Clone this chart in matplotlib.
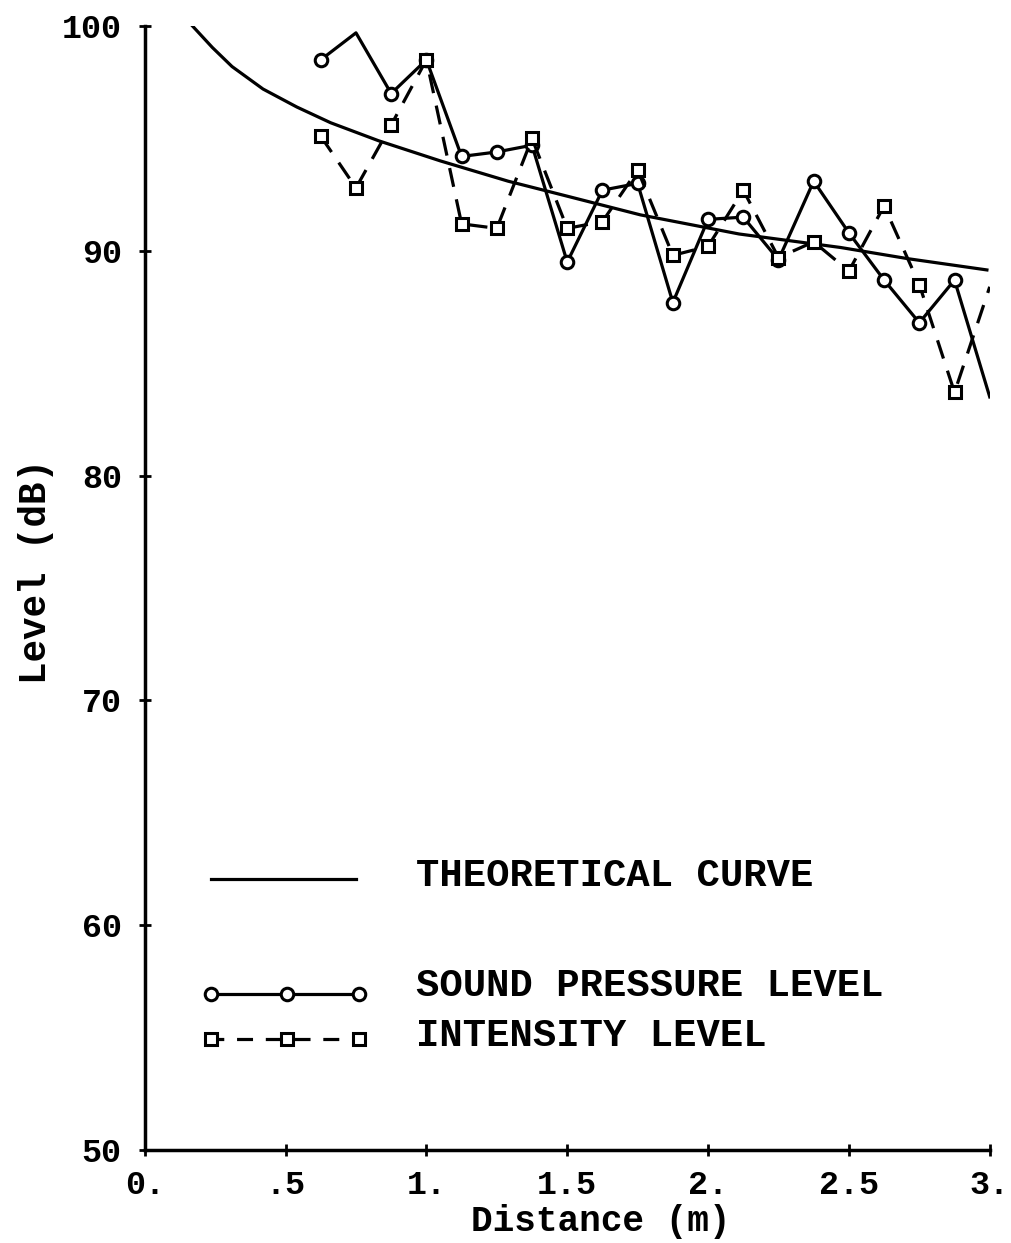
import matplotlib
matplotlib.use('Agg')
import matplotlib.pyplot as plt

# measured positions along the bench (m)
distance = [0.625, 0.75, 0.875, 1.0, 1.125, 1.25, 1.375, 1.5, 1.625, 1.75,
            1.875, 2.0, 2.125, 2.25, 2.375, 2.5, 2.625, 2.75, 2.875, 3.0]
spl = [98.5, 99.7, 97.0, 98.5, 94.2, 94.4, 94.7, 89.5, 92.7, 93.0,
       87.7, 91.4, 91.5, 89.6, 93.1, 90.8, 88.7, 86.8, 88.7, 83.5]
intensity = [95.1, 92.8, 95.6, 98.5, 91.2, 91.0, 95.0, 91.0, 91.3, 93.6,
             89.8, 90.2, 92.7, 89.7, 90.4, 89.1, 92.0, 88.5, 83.7, 88.4]

# theoretical curve
theory_x = [0.17, 0.24, 0.31, 0.42, 0.54, 0.66, 0.83, 1.05, 1.29, 1.51,
            1.76, 2.11, 2.47, 2.71, 2.99]
theory_y = [100.0, 99.05, 98.2, 97.2, 96.4, 95.7, 94.9, 94.0, 93.1, 92.4,
            91.6, 90.75, 90.15, 89.65, 89.15]

xticks = [0, 0.5, 1.0, 1.5, 2.0, 2.5, 3.0]
xtick_labels = ['0.', '.5', '1.', '1.5', '2.', '2.5', '3.']
yticks = [50, 60, 70, 80, 90, 100]

font = 'Liberation Mono'

fig = plt.figure(figsize=(10.12, 12.43), dpi=100)
ax = fig.add_axes([0.143, 0.075, 0.835, 0.904])

ax.plot(theory_x, theory_y, color='black', lw=2.3)

# the end points of the data lines carry no marker in the original
mark_spl = [i for i in range(len(distance)) if i not in (1, len(distance) - 1)]
mark_int = list(range(len(distance) - 1))
ax.plot(distance, spl, color='black', lw=2.3, marker='o', ms=9, mfc='white',
        mec='black', mew=2.2, markevery=mark_spl)
ax.plot(distance, intensity, color='black', lw=2.3, ls=(0, (6, 4)), marker='s', ms=9,
        mfc='white', mec='black', mew=2.2, markevery=mark_int)

ax.set_xlim(0, 3)
ax.set_ylim(50, 100)
ax.set_xticks(xticks)
ax.set_xticklabels(xtick_labels)
ax.set_yticks(yticks)

for side in ['top', 'right']:
    ax.spines[side].set_visible(False)
for side in ['left', 'bottom']:
    ax.spines[side].set_linewidth(2.5)
ax.tick_params(direction='inout', length=9, width=2)
ax.tick_params(axis='x', pad=10)
ax.tick_params(axis='y', pad=12)
for lab in ax.get_xticklabels() + ax.get_yticklabels():
    lab.set_fontfamily(font)
    lab.set_fontweight('bold')
    lab.set_fontsize(24)

ax.set_xlabel('Distance (m)', fontfamily=font, fontweight='bold', fontsize=26)
ax.set_ylabel('Level (dB)', fontfamily=font, fontweight='bold', fontsize=27)
ax.xaxis.set_label_coords(0.54, -0.048)
ax.yaxis.set_label_coords(-0.107, 0.515)

# hand drawn legend in axes coordinates
tr = ax.transAxes
ax.plot([0.079, 0.25], [0.241, 0.241], color='black', lw=2.3, transform=tr, clip_on=False)
ax.plot([0.079, 0.168, 0.254], [0.139] * 3, color='black', lw=2.3, marker='o', ms=9,
        mfc='white', mec='black', mew=2.2, transform=tr, clip_on=False)
ax.plot([0.079, 0.168, 0.254], [0.099] * 3, color='black', lw=2.3, ls=(1, (5, 4)),
        marker='s', ms=8, mfc='white', mec='black', mew=2.2, transform=tr, clip_on=False)
leg_kw = dict(transform=tr, fontfamily=font, fontweight='bold', fontsize=28, va='center')
ax.text(0.321, 0.244, 'THEORETICAL CURVE', **leg_kw)
ax.text(0.321, 0.146, 'SOUND PRESSURE LEVEL', **leg_kw)
ax.text(0.321, 0.101, 'INTENSITY LEVEL', **leg_kw)

fig.savefig('out.png', dpi=100)
